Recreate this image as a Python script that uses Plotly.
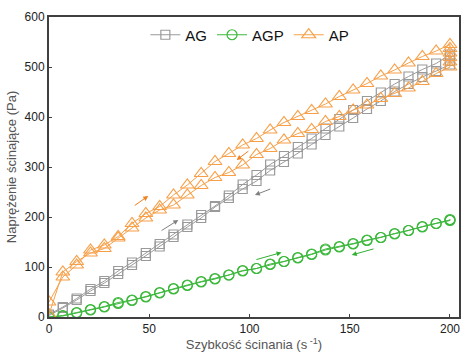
import plotly.graph_objects as go

# shear rate grid (s^-1)
shear_rate = [0, 6.9, 13.8, 20.7, 27.6, 34.5, 41.4, 48.3, 55.2, 62.1, 69.0, 75.9,
              82.8, 89.7, 96.6, 103.5, 110.3, 117.2, 124.1, 131.0, 137.9, 144.8,
              151.7, 158.6, 165.5, 172.4, 179.3, 186.2, 193.1, 200]

# AG (grey squares)
ag_up = [5, 20, 37, 56, 72, 92, 109, 128, 146, 165, 185, 204, 222, 243, 265, 284,
         305, 322, 340, 357, 377, 396, 414, 432, 449, 466, 481, 495, 507, 525]
ag_hold = [519, 512]
ag_down = [3, 18, 34, 52, 68, 86, 104, 122, 141, 160, 180, 198, 220, 238, 256, 272,
           293, 310, 327, 345, 364, 381, 398, 416, 432, 451, 466, 480, 492, 505]

# AGP (green circles)
agp_up = [0, 3, 9, 15, 21, 29, 34, 41, 49, 57, 64, 71, 77, 84, 93, 97, 106, 111,
          119, 126, 136, 141, 147, 154, 159, 167, 173, 181, 187, 194]
agp_hold = [195]
agp_down = [0, 2, 8, 14, 20, 27, 33, 40, 48, 56, 63, 70, 76, 84, 92, 97, 105, 111,
            118, 125, 134, 140, 146, 153, 159, 166, 173, 180, 187, 193]

# AP (orange triangles)
ap_up = [30, 80, 104, 134, 144, 161, 187, 207, 221, 244, 264, 287, 311, 327, 344,
         357, 374, 389, 401, 413, 426, 441, 454, 467, 482, 494, 508, 521, 532, 545]
ap_hold = [537, 528, 519, 510]
ap_down = [5, 90, 111, 128, 137, 158, 178, 198, 214, 224, 244, 263, 279, 289, 304,
           325, 337, 354, 367, 375, 391, 401, 414, 424, 437, 447, 458, 471, 487, 500]


def loop_x(hold):
    return shear_rate + [200] * len(hold) + shear_rate[::-1]


def loop_y(up, hold, down):
    return up + hold + down[::-1]


fig = go.Figure()

series = [
    ("AG", ag_up, ag_hold, ag_down, "#9a9a9a", "square-open", 9),
    ("AGP", agp_up, agp_hold, agp_down, "#3cb83c", "circle-open", 10),
    ("AP", ap_up, ap_hold, ap_down, "#f7a049", "triangle-up-open", 12),
]

for name, up, hold, down, col, sym, size in series:
    fig.add_trace(go.Scatter(
        x=loop_x(hold), y=loop_y(up, hold, down), name=name,
        mode="lines+markers",
        line=dict(color=col, width=1),
        marker=dict(symbol=sym, size=size, color=col, line=dict(width=1.2, color=col)),
    ))

# direction arrows (tail -> head)
arrows = [
    ((42, 221), (49.5, 242), "#f08020"),
    ((55.4, 171), (64.5, 194), "#808080"),
    ((100.2, 334), (93.6, 314), "#f08020"),
    ((111.1, 257), (102.7, 244), "#808080"),
    ((102.7, 114), (116, 129), "#30b030"),
    ((162.6, 137), (151, 124), "#30b030"),
]
for (tx, ty), (hx, hy), c in arrows:
    fig.add_annotation(x=hx, y=hy, ax=tx, ay=ty, xref="x", yref="y",
                       axref="x", ayref="y", showarrow=True, text="",
                       arrowhead=2, arrowsize=1, arrowwidth=1, arrowcolor=c)

axis_common = dict(showgrid=False, zeroline=False, showline=True, mirror=True,
                   linecolor="#404040", linewidth=2, ticks="inside", ticklen=3,
                   tickcolor="#404040", automargin=False,
                   tickfont=dict(family="Liberation Sans", size=12, color="#222"))

fig.update_xaxes(range=[0, 204.5], tickvals=[0, 50, 100, 150, 200],
                 title=dict(text="Szybkość ścinania (s<sup> -1</sup>)", standoff=5,
                            font=dict(family="Liberation Sans", size=13, color="#555")),
                 **axis_common)
fig.update_yaxes(range=[0, 600], tickvals=[0, 100, 200, 300, 400, 500, 600],
                 title=dict(text="Naprężenie ścinające (Pa)", standoff=5,
                            font=dict(family="Liberation Sans", size=13, color="#555")),
                 **axis_common)

fig.update_layout(
    width=461, height=352,
    margin=dict(l=49, r=2, t=17, b=35),
    paper_bgcolor="white", plot_bgcolor="white",
    showlegend=True,
    legend=dict(orientation="h", x=0.235, y=0.995, xanchor="left", yanchor="top",
                font=dict(family="Liberation Sans", size=15, color="#111"),
                bgcolor="rgba(0,0,0,0)", itemwidth=30, tracegroupgap=0),
)

fig.write_html("out.html", config={"displayModeBar": False},
               post_script="document.body.style.margin='0';")
